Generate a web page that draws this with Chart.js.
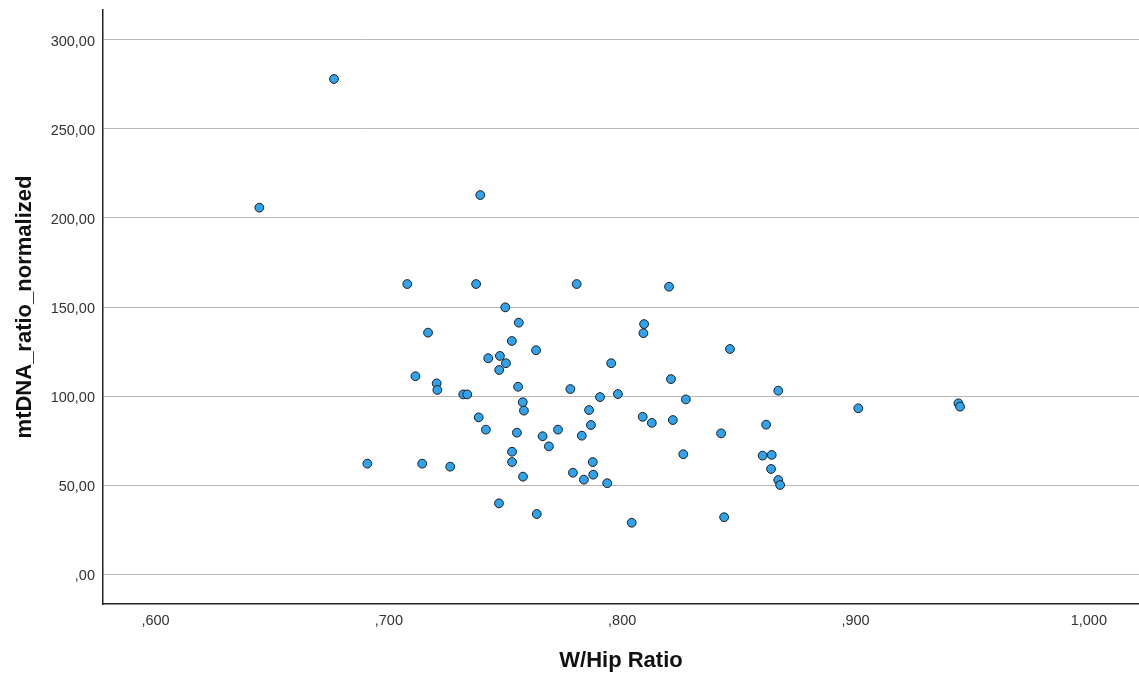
<!DOCTYPE html>
<html>
<head>
<meta charset="utf-8">
<script src="https://cdn.jsdelivr.net/npm/chart.js@4"></script>
<style>
  html, body { margin: 0; padding: 0; background: #ffffff; }
  #wrap { width: 1139px; height: 673px; }
</style>
</head>
<body>
<div id="wrap"><canvas id="c" width="1139" height="673"></canvas></div>
<script>
// W/Hip Ratio (x) values
const whpRatio = [
  0.6445, 0.6765, 0.7392, 0.7079, 0.7374, 0.7805, 0.8201, 0.7499, 0.7557, 0.7168,
  0.7527, 0.7631, 0.7426, 0.7476, 0.7502, 0.7473, 0.7953, 0.7114, 0.8094, 0.8091,
  0.8462, 0.8209, 0.7205, 0.7208, 0.7319, 0.7336, 0.7554, 0.7778, 0.7905, 0.7982,
  0.8273, 0.8669, 0.9012, 0.9441, 0.9448, 0.7574, 0.7579, 0.7858, 0.7385, 0.7416,
  0.7549, 0.7659, 0.7725, 0.7827, 0.7866, 0.7686, 0.8088, 0.8127, 0.8217, 0.8262,
  0.8424, 0.8617, 0.8602, 0.8641, 0.8638, 0.8669, 0.8677, 0.6908, 0.7143, 0.7263,
  0.7528, 0.7528, 0.7575, 0.7874, 0.7789, 0.7836, 0.7876, 0.7936, 0.7472, 0.7634,
  0.8041, 0.8437
];
// mtDNA_ratio_normalized (y) values
const mtDNA = [
  205.8, 278.1, 212.9, 162.9, 162.9, 162.9, 161.4, 149.8, 141.2, 135.6,
  130.9, 125.7, 121.2, 122.5, 118.4, 114.6, 118.4, 111.1, 140.4, 135.3,
  126.4, 109.5, 107.1, 103.4, 100.9, 100.9, 105.2, 103.9, 99.4, 101.1,
  98.1, 103.0, 93.1, 95.9, 94.0, 96.5, 91.8, 92.1, 88.0, 81.1,
  79.4, 77.4, 81.1, 77.7, 83.7, 71.7, 88.3, 84.9, 86.5, 67.3,
  79.0, 83.9, 66.5, 66.9, 59.0, 52.8, 50.0, 62.0, 62.0, 60.3,
  68.7, 62.9, 54.7, 62.9, 56.9, 53.0, 55.8, 51.0, 39.7, 33.7,
  28.8, 31.9
];
const xTicks = [0.6, 0.7, 0.8, 0.9, 1.0];
const yTicks = [0, 50, 100, 150, 200, 250, 300];

const xLabel = 'W/Hip Ratio';
const yLabel = 'mtDNA_ratio_normalized';

const FONT = "'Liberation Sans', Arial, sans-serif";

function fmtComma(v, d) {
  let s = v.toFixed(d).replace('.', ',');
  if (s.startsWith('0,')) s = s.slice(1);
  return s;
}

const points = whpRatio.map((x, i) => ({ x: x, y: mtDNA[i] }));

new Chart(document.getElementById('c'), {
  type: 'scatter',
  data: {
    datasets: [{
      data: points,
      backgroundColor: '#2fa3f0',
      borderColor: '#1c1c1c',
      borderWidth: 1,
      pointRadius: 4.4,
      pointHoverRadius: 4.4
    }]
  },
  options: {
    responsive: false,
    animation: false,
    devicePixelRatio: 1,
    layout: { autoPadding: false, padding: { top: 10, right: 0, left: 0, bottom: 0 } },
    plugins: { legend: { display: false }, tooltip: { enabled: false } },
    scales: {
      x: {
        type: 'linear',
        min: 0.5775,
        max: 1.0215,
        afterBuildTicks: (s) => { s.ticks = xTicks.map(v => ({ value: v })); },
        afterFit: (s) => { s.height = 69; s.paddingLeft = 0; s.paddingRight = 0; },
        grid: { display: false, drawTicks: false },
        border: { display: true, color: '#222', width: 1.5 },
        ticks: {
          padding: 8,
          color: '#333',
          font: { family: FONT, size: 14.5 },
          maxRotation: 0,
          autoSkip: false,
          callback: (v) => fmtComma(v, 3)
        },
        title: {
          display: true,
          text: xLabel,
          color: '#111',
          font: { family: FONT, size: 22, weight: 'bold' },
          padding: { top: 0, bottom: -1 }
        }
      },
      y: {
        type: 'linear',
        min: -16.85,
        max: 316.85,
        afterBuildTicks: (s) => { s.ticks = yTicks.map(v => ({ value: v })); },
        afterFit: (s) => { s.width = 103; s.paddingTop = 0; s.paddingBottom = 0; },
        grid: { display: true, drawTicks: false, color: '#b8b8b8', lineWidth: 1 },
        border: { display: true, color: '#222', width: 1.5 },
        ticks: {
          padding: 8,
          labelOffset: 2,
          color: '#333',
          font: { family: FONT, size: 14.5 },
          autoSkip: false,
          callback: (v) => fmtComma(v, 2)
        },
        title: {
          display: true,
          text: yLabel,
          color: '#111',
          font: { family: FONT, size: 22, weight: 'bold' },
          padding: { top: 12, bottom: 0 }
        }
      }
    }
  }
});
</script>
</body>
</html>
